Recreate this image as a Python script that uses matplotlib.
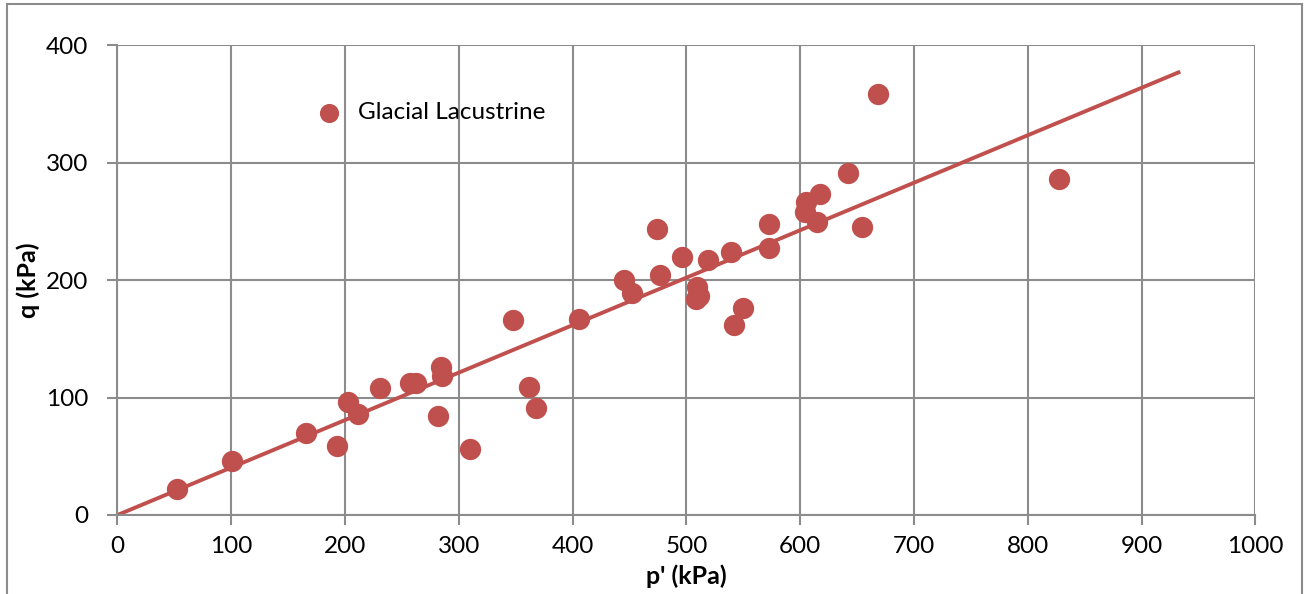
import matplotlib
matplotlib.use("Agg")
import matplotlib.pyplot as plt
from matplotlib.patches import Rectangle
import numpy as np

plt.rcParams['font.family'] = ['Lato', 'DejaVu Sans']

p_kpa = [52, 101, 166, 193, 203, 211, 231, 257, 262, 282, 284, 285, 310,
         348, 362, 368, 406, 445, 452, 474, 477, 496, 519, 509, 508, 511,
         539, 542, 550, 573, 573, 605, 604, 615, 617, 642, 654, 668, 827]
q_kpa = [22, 46, 70, 59, 96, 86, 108, 112, 112, 84, 126, 118, 56,
         166, 109, 91, 167, 200, 189, 243, 204, 220, 217, 194, 184, 186,
         224, 162, 176, 248, 227, 266, 258, 249, 273, 291, 245, 358, 286]
fit_x = [0, 934]
fit_slope = 0.404
series_label = "Glacial Lacustrine"
x_ticks = [0, 100, 200, 300, 400, 500, 600, 700, 800, 900, 1000]
y_ticks = [0, 100, 200, 300, 400]

red = '#C0504D'
grid_c = '#8c8c8c'

fig = plt.figure(figsize=(13.04, 5.94), dpi=100)
ax = fig.add_axes([0.0901, 0.133, 0.8726, 0.7912])

ax.scatter(p_kpa, q_kpa, s=235, color=red, zorder=3, linewidths=0)
fx = np.array(fit_x)
ax.plot(fx, fit_slope * fx, color=red, lw=2.8, zorder=2, solid_capstyle='butt')

ax.set_xlim(0, 1000)
ax.set_ylim(0, 400)
ax.set_xticks(x_ticks)
ax.set_yticks(y_ticks)
ax.grid(True, color=grid_c, lw=1.5)
ax.set_axisbelow(True)
for s in ['top', 'right']:
    ax.spines[s].set_visible(False)
for s in ['left', 'bottom']:
    ax.spines[s].set_color(grid_c)
    ax.spines[s].set_linewidth(1.5)
ax.tick_params(axis='both', direction='out', length=7, width=1.5, color=grid_c,
               labelsize=17.5, labelcolor='black')
ax.tick_params(axis='x', pad=8)
ax.tick_params(axis='y', pad=14)

ax.set_xlabel("p' (kPa)", fontsize=18, fontweight='bold')
ax.xaxis.set_label_coords(0.5, -0.106)
ax.set_ylabel("q (kPa)", fontsize=18, fontweight='bold')
ax.yaxis.set_label_coords(-0.068, 0.5)

# legend
ax.scatter([], [], s=190, color=red, linewidths=0, label=series_label)
handles, labels = ax.get_legend_handles_labels()
ax.legend(handles[-1:], labels[-1:], loc='upper left', bbox_to_anchor=(0.1455, 0.925),
          frameon=False, fontsize=17.5, handletextpad=0.2, scatterpoints=1)

fig.patches.append(Rectangle((7 / 1304, -0.02), 1295 / 1304, 0.02 + 1 - 3.5 / 594,
                             transform=fig.transFigure, fill=False,
                             edgecolor='#8c8c8c', lw=1.5))

fig.savefig('out.png', dpi=100)
